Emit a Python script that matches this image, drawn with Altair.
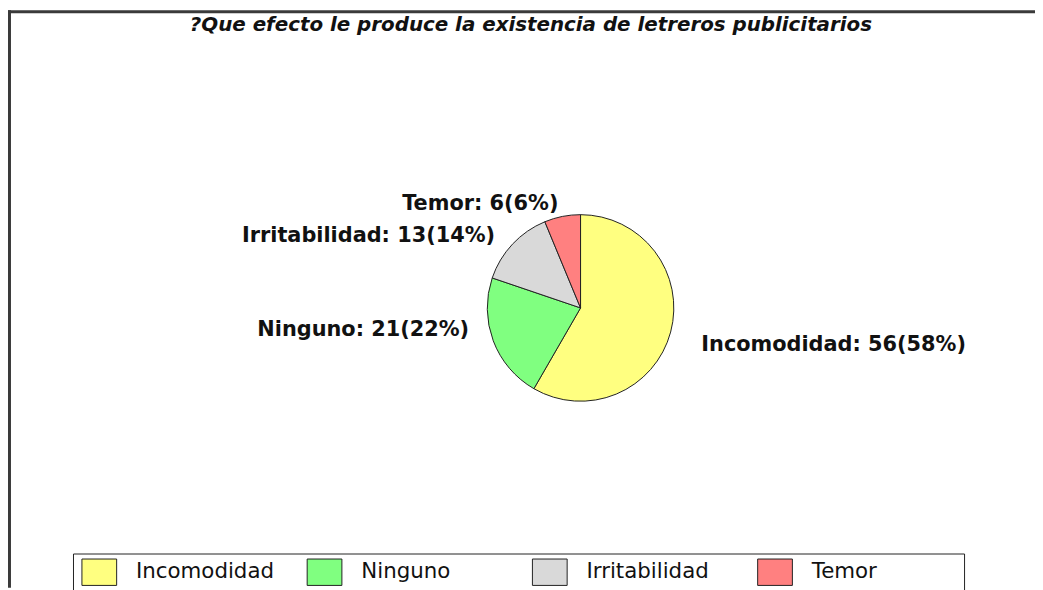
import altair as alt
import pandas as pd

# ---- data ----
categories = ["Incomodidad", "Ninguno", "Irritabilidad", "Temor"]
counts = [56, 21, 13, 6]
percents = [58, 22, 14, 6]
colors = ["#FFFF80", "#80FF80", "#D9D9D9", "#FF8080"]
title_text = "?Que efecto le produce la existencia de letreros publicitarios"

df = pd.DataFrame({
    "categoria": categories,
    "valor": counts,
    "pct": percents,
    "idx": list(range(len(categories))),
})
df["etiqueta"] = [f"{c}: {v}({p}%)" for c, v, p in zip(categories, counts, percents)]

# label placement styles (radius from the pie centre, vertical nudge, alignment)
label_style = {
    "Incomodidad": dict(radius=126, dy=5, align="left"),
    "Ninguno": dict(radius=120, dy=-20, align="right"),
    "Irritabilidad": dict(radius=118, dy=8, align="right"),
    "Temor": dict(radius=114, dy=7, align="right"),
}

W, H = 1035, 582
CX, CY = 577, 300
FONT = "DejaVu Sans"

rect_sym = "M-1,-0.76L1,-0.76L1,0.76L-1,0.76Z"

base = alt.Chart(df).encode(
    theta=alt.Theta("valor:Q", stack=True),
    order=alt.Order("idx:O"),
    x=alt.value(CX),
    y=alt.value(CY),
)

pie = base.mark_arc(outerRadius=94, stroke="#222222", strokeWidth=1).encode(
    color=alt.Color(
        "categoria:N",
        scale=alt.Scale(domain=categories, range=colors),
        sort=categories,
        legend=alt.Legend(
            orient="none",
            legendX=74,
            legendY=548,
            direction="horizontal",
            columns=4,
            gridAlign="all",
            title=None,
            padding=0,
            symbolType=rect_sym,
            symbolSize=1225,
            symbolStrokeColor="#222222",
            symbolStrokeWidth=1,
            symbolOpacity=1,
            labelFont=FONT,
            labelFontSize=21.5,
            labelColor="#111111",
            labelOffset=19,
            columnPadding=30,
            labelLimit=300,
        ),
    )
)

label_layers = []
for i, cat in enumerate(categories):
    st = label_style[cat]
    label_layers.append(
        base.transform_calculate(
            lab=f"datum.idx == {i} ? datum.etiqueta : ''"
        ).mark_text(
            radius=st["radius"], dy=st["dy"], align=st["align"], baseline="middle",
            font=FONT, fontSize=21, fontWeight="bold", color="#111111",
        ).encode(text="lab:N")
    )

one = alt.Data(values=[{}])

title = alt.Chart(one).mark_text(
    font=FONT, fontSize=20, fontWeight="bold", fontStyle="italic",
    color="#111111", align="center", baseline="middle"
).encode(x=alt.value(527), y=alt.value(15), text=alt.value(title_text))

frame_top = alt.Chart(one).mark_rule(color="#3a3a3a", strokeWidth=3).encode(
    x=alt.value(0), x2=alt.value(W), y=alt.value(1.5)
)
frame_left = alt.Chart(one).mark_rule(color="#3a3a3a", strokeWidth=3).encode(
    x=alt.value(1.5), y=alt.value(0), y2=alt.value(H)
)

legend_box = alt.Chart(one).mark_rect(
    fill="white", stroke="#222222", strokeWidth=1
).encode(x=alt.value(66), x2=alt.value(964), y=alt.value(548), y2=alt.value(600))

chart = alt.layer(
    frame_top, frame_left, legend_box, title, pie, *label_layers
).properties(
    width=W, height=H,
    autosize=alt.AutoSizeParams(type="none"),
    padding=0,
).configure_view(stroke=None)

chart.save("out.html", embed_options={"renderer": "svg", "actions": False})
